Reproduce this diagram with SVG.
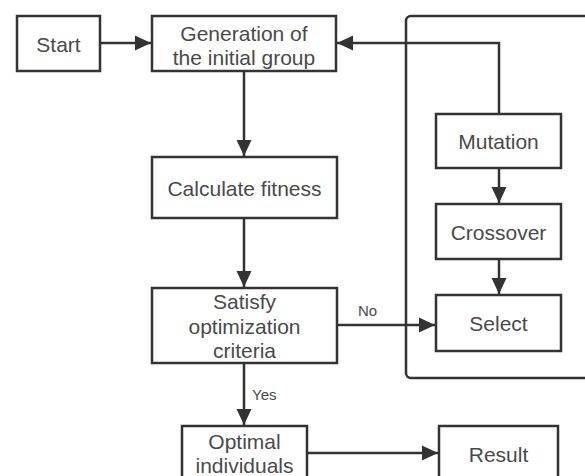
<svg xmlns="http://www.w3.org/2000/svg" width="585" height="476" viewBox="0 0 585 476">
<defs>
<style>
.box{fill:#fff;stroke:#333;stroke-width:2.5}
.cont{fill:none;stroke:#333;stroke-width:2.5}
.t{font-family:"Liberation Sans",Arial,sans-serif;font-size:21px;fill:#4a4a4a;text-anchor:middle}
.lbl{font-family:"Liberation Sans",Arial,sans-serif;font-size:15px;fill:#4a4a4a}
.c{fill:none;stroke:#333;stroke-width:2.5}
</style>
<marker id="ah" markerUnits="userSpaceOnUse" markerWidth="16" markerHeight="16" viewBox="0 0 16 16" refX="16" refY="8" orient="auto">
<path d="M0,0.5 L16,8 L0,15.5 Z" fill="#333"/>
</marker>
</defs>
<rect width="585" height="476" fill="#fff"/>
<rect class="cont" x="406" y="16" width="200" height="362" rx="5"/>
<g id="connectors">
<path class="c" d="M100,43 H151" marker-end="url(#ah)"/>
<path class="c" d="M244,71 V156" marker-end="url(#ah)"/>
<path class="c" d="M244,218 V287" marker-end="url(#ah)"/>
<path class="c" d="M244,363 V425" marker-end="url(#ah)"/>
<path class="c" d="M337,325 H435" marker-end="url(#ah)"/>
<path class="c" d="M499,114 V43 H337" marker-end="url(#ah)"/>
<path class="c" d="M499,168 V203" marker-end="url(#ah)"/>
<path class="c" d="M499,259 V294" marker-end="url(#ah)"/>
<path class="c" d="M307,453 H438" marker-end="url(#ah)"/>
<text class="lbl" x="358" y="316">No</text>
<text class="lbl" x="252" y="400">Yes</text>
</g>
<g id="start"><rect class="box" x="17" y="16" width="83" height="55"/><text class="t" x="58.5" y="51.5">Start</text></g>
<g id="generation"><rect class="box" x="152" y="16" width="184" height="55"/><text class="t" x="244" y="40.5">Generation of</text><text class="t" x="244" y="65">the initial group</text></g>
<g id="calculate"><rect class="box" x="152" y="157" width="185" height="61"/><text class="t" x="244.5" y="196">Calculate fitness</text></g>
<g id="satisfy"><rect class="box" x="152" y="288" width="185" height="75"/><text class="t" x="244.5" y="309">Satisfy</text><text class="t" x="244.5" y="334">optimization</text><text class="t" x="244.5" y="358">criteria</text></g>
<g id="optimal"><rect class="box" x="182" y="426" width="125" height="70"/><text class="t" x="244.5" y="449">Optimal</text><text class="t" x="244.5" y="473">individuals</text></g>
<g id="result"><rect class="box" x="439" y="426" width="119" height="70"/><text class="t" x="498.5" y="462">Result</text></g>
<g id="mutation"><rect class="box" x="436" y="114" width="125" height="54"/><text class="t" x="498.5" y="149">Mutation</text></g>
<g id="crossover"><rect class="box" x="436" y="204" width="125" height="55"/><text class="t" x="498.5" y="240">Crossover</text></g>
<g id="select"><rect class="box" x="436" y="295" width="125" height="56"/><text class="t" x="498.5" y="331">Select</text></g>
</svg>
